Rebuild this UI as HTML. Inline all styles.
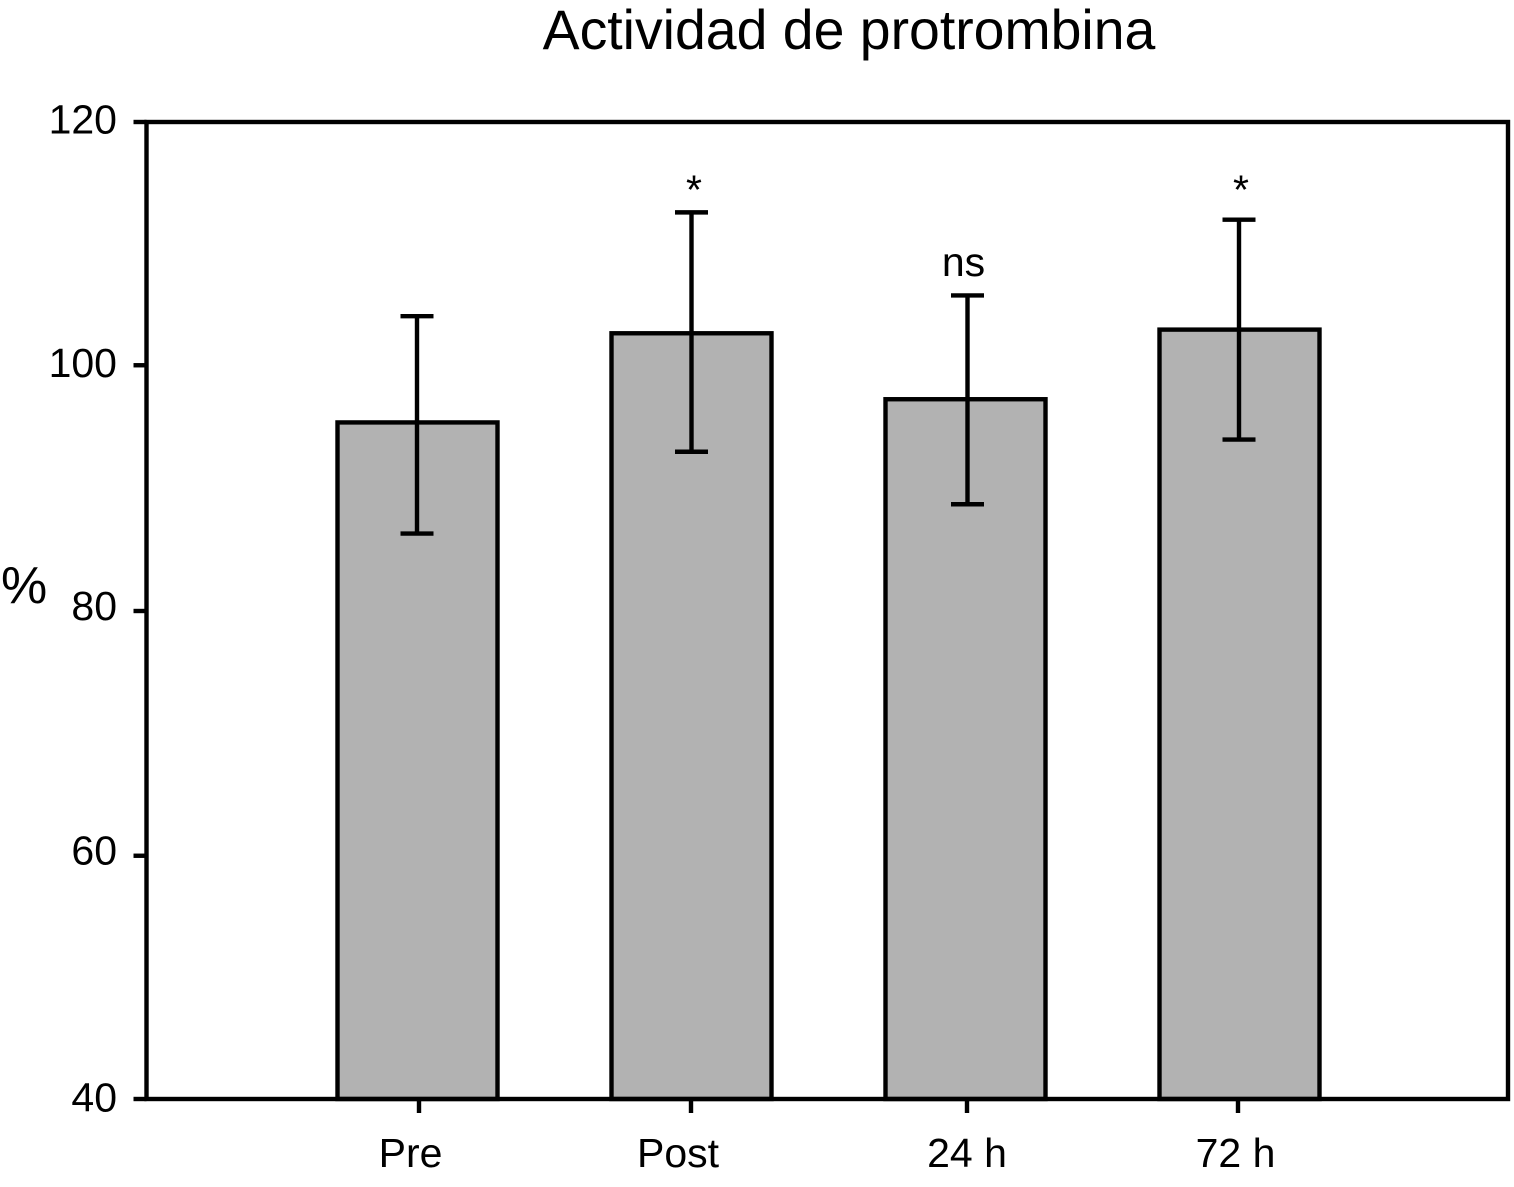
<!DOCTYPE html>
<html lang="es">
<head>
<meta charset="utf-8">
<title>Actividad de protrombina</title>
<style>
html,body{margin:0;padding:0;background:#fff;width:1514px;height:1187px;overflow:hidden}
svg{display:block}
text{font-family:"Liberation Sans",Arial,sans-serif;fill:#000}
</style>
</head>
<body>
<svg id="chart" xmlns="http://www.w3.org/2000/svg" width="1514" height="1187" viewBox="0 0 1514 1187">
<text x="849" y="49" font-size="55.4" text-anchor="middle">Actividad de protrombina</text>
<text x="1" y="603" font-size="52">%</text>
</svg>
<script>
const categories = ['Pre', 'Post', '24 h', '72 h'];
const barValues = [95.4, 102.7, 97.3, 103.0];
const errorUpper = [104.1, 112.6, 105.8, 112.0];
const errorLower = [86.3, 93.0, 88.7, 94.0];
const annotations = ['', '*', 'ns', '*'];
const yTicks = [40, 60, 80, 100, 120];

const svgNS = 'http://www.w3.org/2000/svg';
const svg = document.getElementById('chart');
const plot = {left: 146.5, right: 1508, top: 122, bottom: 1099};
const yMin = 40, yMax = 120;
const labelShift = [-7, -13.5, 1.5, -4];
const annotationShift = [0, 2.5, -2, 1.5];
const annotationGap = [0, 9, 19.5, 16];
const errorShift = [-0.5, 0, 2, -0.5];
const xTickShift = [1.5, -0.5, 1.5, -1.5];
const yTickShift = [0, 1, 0.5, -1, 0];
const yLabelShift = [1, -2, -2, -1, 0];

function xPos(i) { return 417.5 + 274 * i; }
function yPos(v) { return plot.bottom - (v - yMin) * (plot.bottom - plot.top) / (yMax - yMin); }

function make(tag, attrs, text) {
  const el = document.createElementNS(svgNS, tag);
  for (const k in attrs) el.setAttribute(k, attrs[k]);
  if (text !== undefined) el.textContent = text;
  svg.appendChild(el);
  return el;
}
function line(x1, y1, x2, y2, w) {
  return make('line', {x1: x1, y1: y1, x2: x2, y2: y2, stroke: '#000', 'stroke-width': w});
}

const barWidth = 160;
const capHalf = 16.5;
const strokeW = 4.4;

categories.forEach(function (cat, i) {
  const x = xPos(i);
  const bar = make('rect', {
    x: x - barWidth / 2, y: yPos(barValues[i]),
    width: barWidth, height: yPos(yMin) - yPos(barValues[i]),
    fill: '#b2b2b2', stroke: '#000', 'stroke-width': strokeW
  });
  
  
});

const frame = make('rect', {
  x: plot.left, y: plot.top,
  width: plot.right - plot.left, height: plot.bottom - plot.top,
  fill: 'none', stroke: '#000', 'stroke-width': strokeW
});



categories.forEach(function (cat, i) {
  const x = xPos(i);
  const ex = x + errorShift[i];
  const stem = line(ex, yPos(errorUpper[i]), ex, yPos(errorLower[i]), strokeW);
  
  
  const capTop = line(ex - capHalf, yPos(errorUpper[i]), ex + capHalf, yPos(errorUpper[i]), strokeW);
  
  
  const capBottom = line(ex - capHalf, yPos(errorLower[i]), ex + capHalf, yPos(errorLower[i]), strokeW);
  
  

  const tx = x + xTickShift[i];
  const tick = line(tx, plot.bottom, tx, plot.bottom + 14, strokeW);
  
  

  const label = make('text', {x: x + labelShift[i], y: 1167, 'font-size': 41, 'text-anchor': 'middle'}, cat);
  
  

  if (annotations[i]) {
    const note = make('text', {
      x: x + annotationShift[i],
      y: yPos(errorUpper[i]) - annotationGap[i],
      'font-size': 41, 'text-anchor': 'middle'
    }, annotations[i]);
    
    
  }
});

yTicks.forEach(function (v, i) {
  const y = yPos(v);
  const ty = y + yTickShift[i];
  const tick = line(plot.left - 13, ty, plot.left, ty, strokeW);
  
  
  const label = make('text', {x: 117, y: y + 11.5 + yLabelShift[i], 'font-size': 41, 'text-anchor': 'end'}, String(v));
  
  
});
</script>
</body>
</html>
